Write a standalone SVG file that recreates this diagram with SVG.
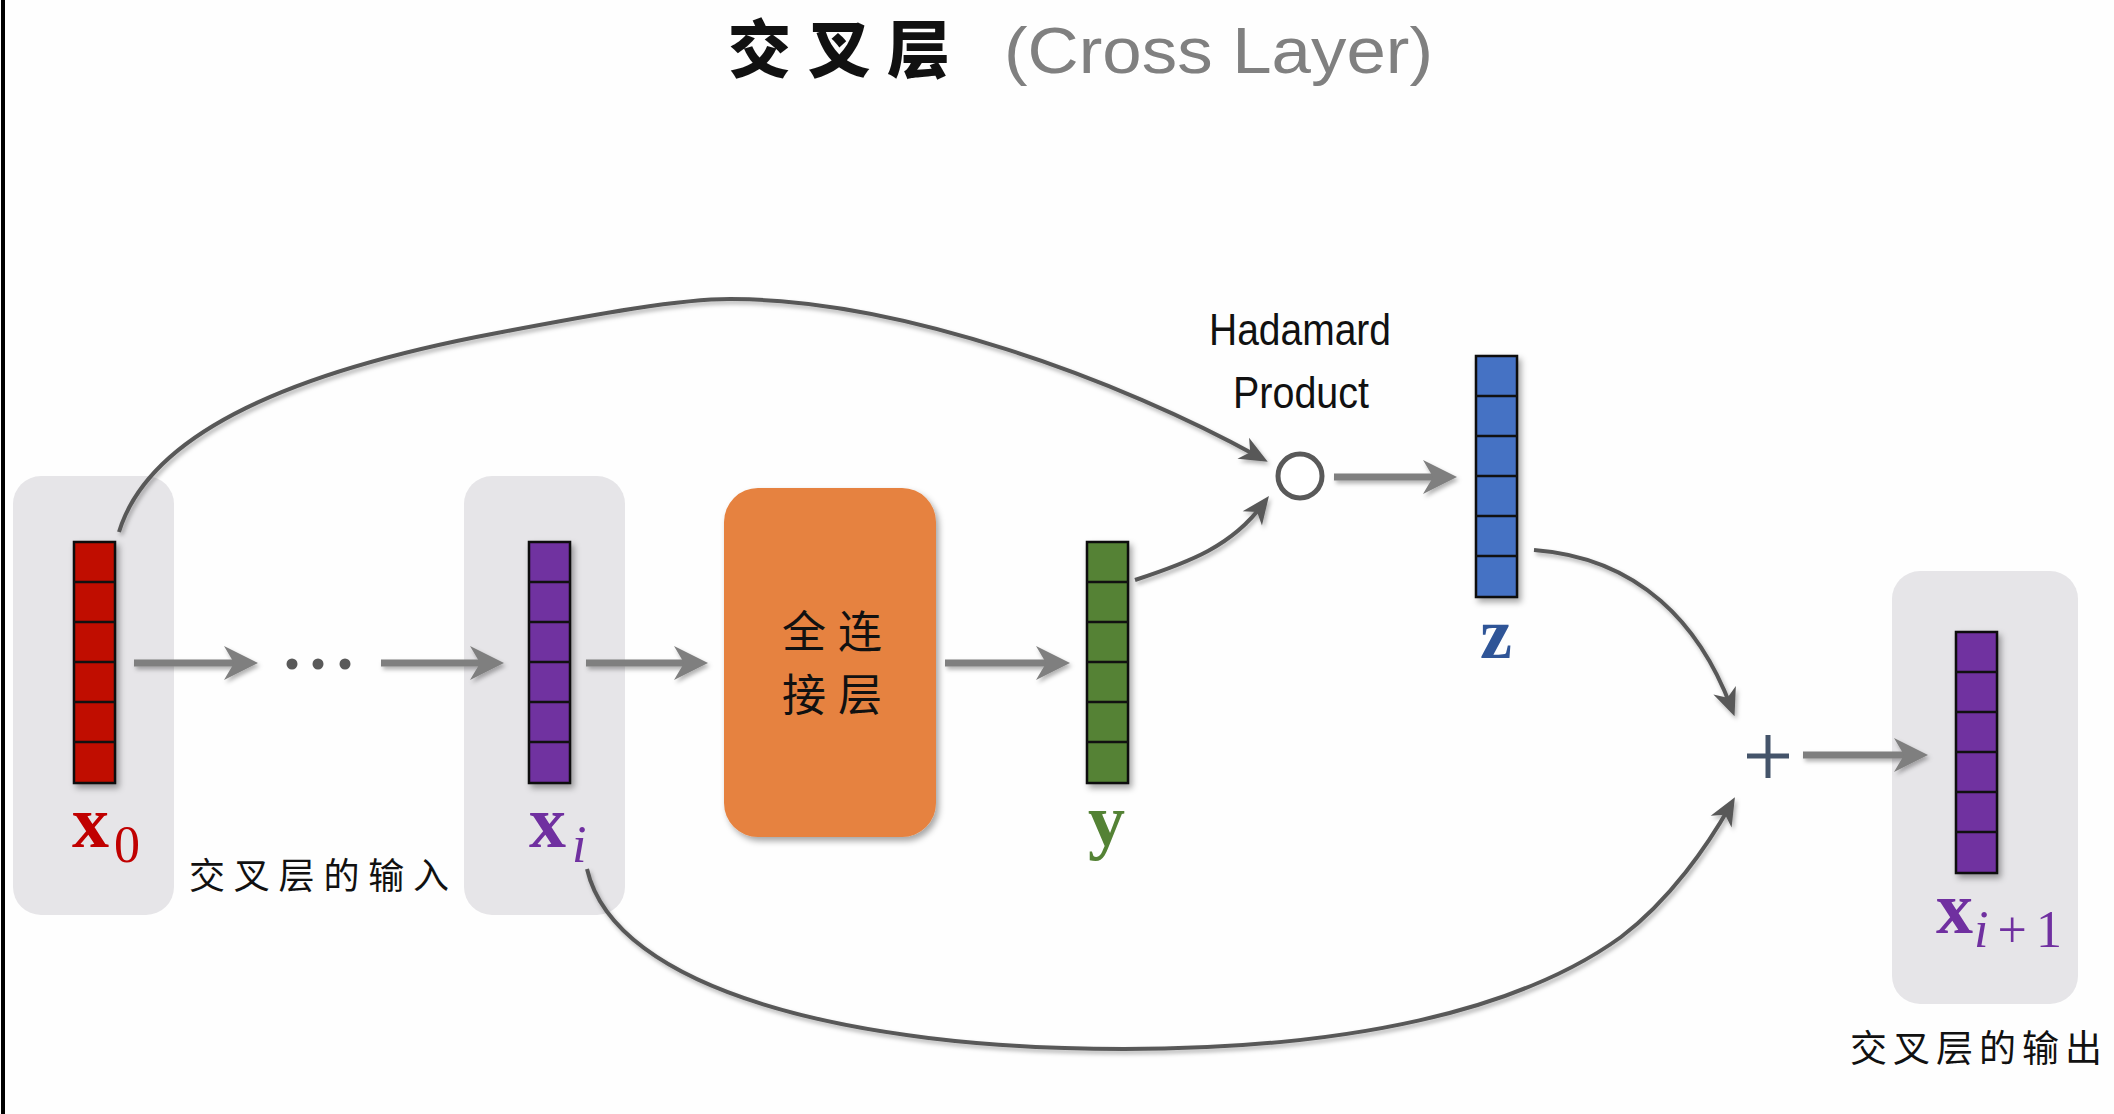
<svg xmlns="http://www.w3.org/2000/svg" width="2114" height="1114" viewBox="0 0 2114 1114">
  <style>
    .panel { fill: #e6e5e8; }
    .bar { stroke: #111; stroke-width: 2.5; }
    .cells { stroke: #111; stroke-width: 2.5; fill: none; }
    .red { fill: #c00f00; }
    .purple { fill: #7030a0; }
    .green { fill: #548235; }
    .blue { fill: #4472c4; }
    .sym { font-family: "Liberation Serif", serif; font-weight: bold; }
    .sub { font-family: "Liberation Serif", serif; }
    .cjk { font-family: "Noto Sans CJK SC", sans-serif; fill: #111; }
    .sans { font-family: "Liberation Sans", "DejaVu Sans", sans-serif; fill: #111; }
    .straight { stroke: #7f7f7f; stroke-width: 7; fill: none; marker-end: url(#bigHead); }
    .curve { stroke: #595959; stroke-width: 4; fill: none; marker-end: url(#smallHead); }
  </style>
  <defs>
    <filter id="shadow" x="-20%" y="-20%" width="150%" height="150%">
      <feDropShadow dx="3" dy="4" stdDeviation="3" flood-color="#000" flood-opacity="0.35"/>
    </filter>
    <filter id="lshadow" x="-10%" y="-10%" width="130%" height="130%">
      <feDropShadow dx="2" dy="3" stdDeviation="2" flood-color="#000" flood-opacity="0.3"/>
    </filter>
    <marker id="bigHead" markerUnits="userSpaceOnUse" markerWidth="40" markerHeight="40" viewBox="-2 -20 40 40" refX="14" refY="0" orient="auto">
      <path d="M0,-17 L34,0 L0,17 L10,0 Z" fill="#7f7f7f"/>
    </marker>
    <marker id="smallHead" markerUnits="userSpaceOnUse" markerWidth="34" markerHeight="30" viewBox="-2 -15 34 30" refX="18" refY="0" orient="auto">
      <path d="M0,-12 L28,0 L0,12 L8,0 Z" fill="#595959"/>
    </marker>
  </defs>

  <rect x="0" y="0" width="2114" height="1114" fill="#fefefe"/>
  <rect x="1" y="0" width="4" height="1114" fill="#000"/>

  <g id="title">
    <text class="cjk" x="728" y="72" font-size="63" font-weight="900" textLength="222">交叉层</text>
    <text x="1004" y="73" font-size="64" fill="#808080" font-family="Liberation Sans, sans-serif" textLength="429" lengthAdjust="spacingAndGlyphs">(Cross  Layer)</text>
  </g>

  <g id="node-x0">
    <rect class="panel" x="13" y="476" width="161" height="439" rx="28"/>
    <g filter="url(#shadow)">
      <rect class="bar red" x="74" y="542" width="41" height="241"/>
    </g>
    <path class="cells" d="M74,582H115M74,622H115M74,662H115M74,702H115M74,742H115"/>
    <text class="sym" x="72" y="847" font-size="74" fill="#c00000">x</text>
    <text class="sub" x="114" y="862" font-size="52" fill="#c00000">0</text>
  </g>

  <g id="label-input">
    <text class="cjk" x="189" y="889" font-size="36" textLength="260">交叉层的输入</text>
  </g>

  <g id="dots" fill="#595959">
    <circle cx="292" cy="664" r="5.5"/>
    <circle cx="318" cy="664" r="5.5"/>
    <circle cx="345" cy="664" r="5.5"/>
  </g>

  <g id="node-xi">
    <rect class="panel" x="464" y="476" width="161" height="439" rx="28"/>
    <g filter="url(#shadow)">
      <rect class="bar purple" x="529" y="542" width="41" height="241"/>
    </g>
    <path class="cells" d="M529,582H570M529,622H570M529,662H570M529,702H570M529,742H570"/>
    <text class="sym" x="529" y="847" font-size="74" fill="#7030a0">x</text>
    <text class="sub" x="572" y="862" font-size="52" font-style="italic" fill="#7030a0">i</text>
  </g>

  <g id="node-fc">
    <rect x="724" y="488" width="212" height="349" rx="34" fill="#e6823f" filter="url(#shadow)"/>
    <text class="cjk" x="782" y="648" font-size="44" textLength="100">全连</text>
    <text class="cjk" x="782" y="711" font-size="44" textLength="100">接层</text>
  </g>

  <g id="node-y">
    <g filter="url(#shadow)">
      <rect class="bar green" x="1087" y="542" width="41" height="241"/>
    </g>
    <path class="cells" d="M1087,582H1128M1087,622H1128M1087,662H1128M1087,702H1128M1087,742H1128"/>
    <text class="sym" x="1088" y="845" font-size="74" fill="#548235">y</text>
  </g>

  <g id="node-hadamard">
    <circle cx="1300" cy="476" r="22" fill="#fff" stroke="#595959" stroke-width="5"/>
    <text class="sans" x="1209" y="345" font-size="45" textLength="182" lengthAdjust="spacingAndGlyphs">Hadamard</text>
    <text class="sans" x="1233" y="408" font-size="45" textLength="136" lengthAdjust="spacingAndGlyphs">Product</text>
  </g>

  <g id="node-z">
    <g filter="url(#shadow)">
      <rect class="bar blue" x="1476" y="356" width="41" height="241"/>
    </g>
    <path class="cells" d="M1476,396H1517M1476,436H1517M1476,476H1517M1476,516H1517M1476,556H1517"/>
    <text class="sym" x="1480" y="658" font-size="72" fill="#2f5597">z</text>
  </g>

  <g id="node-plus" stroke="#44546a" stroke-width="5">
    <line x1="1747" y1="756" x2="1789" y2="756"/>
    <line x1="1768" y1="735" x2="1768" y2="778"/>
  </g>

  <g id="node-xi1">
    <rect class="panel" x="1892" y="571" width="186" height="433" rx="28"/>
    <g filter="url(#shadow)">
      <rect class="bar purple" x="1956" y="632" width="41" height="241"/>
    </g>
    <path class="cells" d="M1956,672H1997M1956,712H1997M1956,752H1997M1956,792H1997M1956,832H1997"/>
    <text class="sym" x="1936" y="933" font-size="74" fill="#7030a0">x</text>
    <text class="sub" x="1974" y="947" font-size="52" fill="#7030a0" textLength="88"><tspan font-style="italic">i</tspan>+1</text>
  </g>

  <g id="label-output">
    <text class="cjk" x="1850" y="1062" font-size="37" textLength="252">交叉层的输出</text>
  </g>

  <g id="connectors" filter="url(#lshadow)">
    <line class="straight" x1="134" y1="663" x2="238" y2="663"/>
    <line class="straight" x1="381" y1="663" x2="484" y2="663"/>
    <line class="straight" x1="586" y1="663" x2="688" y2="663"/>
    <line class="straight" x1="945" y1="663" x2="1050" y2="663"/>
    <line class="straight" x1="1334" y1="477" x2="1437" y2="477"/>
    <line class="straight" x1="1803" y1="755" x2="1908" y2="755"/>
    <path class="curve" d="M119,532 C150,430 300,370 497,333 C602,313 680,299 730,299 C900,299 1120,380 1259,457"/>
    <path class="curve" d="M1135,580 C1190,562 1232,546 1263,504"/>
    <path class="curve" d="M1534,550 C1640,558 1700,625 1731,707"/>
    <path class="curve" d="M587,869 C615,990 850,1049 1124,1049 C1350,1049 1520,1010 1621,937 C1670,900 1708,845 1730,806"/>
  </g>
</svg>
